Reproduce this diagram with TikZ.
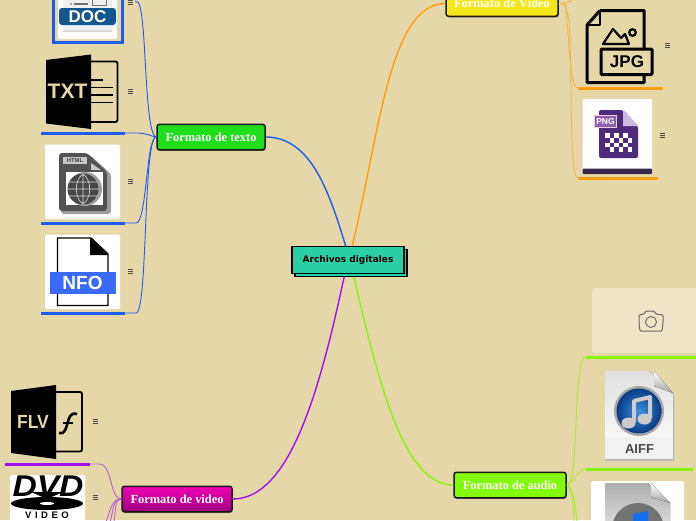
\documentclass[tikz,border=0pt]{standalone}
\usepackage{fontspec}
\setmainfont{Liberation Serif}
\newfontfamily\dejabold{DejaVu Sans}
\newfontfamily\helv{Liberation Sans}
\usetikzlibrary{shadows}
\definecolor{bgc}{HTML}{E6D7A8}
\definecolor{bluec}{HTML}{1E5CF0}
\definecolor{orangec}{HTML}{FF9E0F}
\definecolor{limec}{HTML}{86F50A}
\definecolor{purplec}{HTML}{A010F0}
\definecolor{topic}{HTML}{2CCFA4}
\tikzset{
 x=1pt,y=-1pt,
 topicbox/.style={draw=black!90,line width=1.5pt,rounded corners=2.5pt,font=\bfseries\fontsize{12.4}{13}\selectfont,text=white,inner sep=0pt,minimum height=25.5pt,drop shadow={shadow xshift=0.6pt,shadow yshift=-1.2pt,fill=black,opacity=.5}},
 link/.style={line width=.9pt},
 mainlink/.style={line width=1.4pt},
 under/.style={line width=3pt},
 menu/.style={draw=black!70,line width=.75pt},
 whitecard/.style={fill=white,rounded corners=1.5pt},
}
\newcommand{\burger}[2]{\draw[menu] (#1-2.3,#2-2)--(#1+2.3,#2-2) (#1-2.3,#2)--(#1+2.3,#2) (#1-2.3,#2+2)--(#1+2.3,#2+2);}
\begin{document}
\begin{tikzpicture}
\useasboundingbox (0,0) rectangle (696,520);
\fill[bgc] (0,0) rectangle (696,520);
\begin{scope}
\clip (0,0) rectangle (696,520);
% card
\fill[white!35!bgc,rounded corners=3pt] (592,288) rectangle (700,353);
\draw[black!60,line width=1pt,rounded corners=1pt] (639,315) -- (639,323) -- (640,331) -- (662,331) -- (663,323) -- (663,315) -- (656,314) -- (654,311) -- (646,311) -- (644,314) -- cycle;
\draw[black!60,line width=.9pt] (651,322) circle (5.5);
% central link anchors
\coordinate (ca) at (346,247);
\coordinate (cb) at (352,247);
\coordinate (cc) at (353,273);
\coordinate (cd) at (345,273);
% topics
\node[topicbox,fill={rgb,255:red,32;green,222;blue,28},minimum width=108pt] (ftexto) at (211,137) {Formato de texto};
\node[topicbox,fill={rgb,255:red,244;green,232;blue,26},minimum width=112pt] (fvideo1) at (502,3.5) {Formato de Vídeo};
\node[topicbox,fill={rgb,255:red,130;green,250;blue,10},minimum width=112pt] (faudio) at (510,485) {Formato de audio};
\node[topicbox,top color={rgb,255:red,238;green,0;blue,180},bottom color={rgb,255:red,160;green,0;blue,130},minimum width=110pt] (fvideo2) at (177,499) {Formato de video};
% central links
\draw[bluec,mainlink] (ca) .. controls (330,195) and (312,137) .. (ftexto.east);
\draw[orangec,mainlink] (cb) .. controls (380,130) and (390,3.5) .. (fvideo1.west);
\draw[limec,mainlink] (cc) .. controls (380,390) and (405,485) .. (faudio.west);
\draw[purplec,mainlink] (cd) .. controls (320,390) and (290,499) .. (fvideo2.east);
% central
\node[draw=black,line width=1.4pt,fill=topic,minimum width=112pt,minimum height=27pt,inner sep=0pt] (cshadow) at (351,263) {};
\node[draw=black,line width=1.4pt,fill=topic,minimum width=112pt,minimum height=27pt,inner sep=0pt,font=\dejabold\bfseries\fontsize{9}{10}\selectfont] (central) at (348,260) {Archivos digitales};
% texto items
\coordinate (t1) at (135,1);\coordinate (t2) at (125,133);\coordinate (t3) at (125,223);\coordinate (t4) at (125,313);
\draw[bluec,link] (ftexto.west) .. controls (147,137) and (146,60) .. (143,28) .. controls (141,8) and (140,1) .. (t1);
\draw[bluec,link] (ftexto.west) .. controls (150,136) and (146,133) .. (138,133) -- (t2);
\draw[bluec,link] (ftexto.west) .. controls (146,137) and (147,223) .. (136,223) -- (t3);
\draw[bluec,link] (ftexto.west) .. controls (143,137) and (148,313) .. (136,313) -- (t4);
\draw[bluec,under] (41,133)--(t2) (41,223)--(t3) (41,313)--(t4);
% DOC
\fill[whitecard] (58,-5) rectangle (117,39);
\draw[bluec,line width=3pt] (53.5,-5) rectangle (122.5,42.5);
\fill[black!6] (63,-5) rectangle (112,32);
\fill[black!15] (63,30) rectangle (112,32);
\fill[black!55] (74,3) rectangle (88,4.5);\fill[black!55] (71,3.8) circle (1);
\draw[black!55] (92,-3) rectangle (106,5);
\fill[rounded corners=3pt,fill={rgb,255:red,18;green,88;blue,142}] (59,8) rectangle (116,25);
\node[font=\helv\bfseries\fontsize{17}{18}\selectfont,text=white!92!bgc,inner sep=0pt] (doc) at (87.5,17) {DOC};
\burger{130.5}{2}
% TXT
\draw[black,line width=1.9pt,rounded corners=2pt] (85,61.5) -- (117.5,61.5) -- (117.5,122) -- (85,122);
\fill[black] (46,60) -- (91,54.5) -- (91,129) -- (46,123.5) -- cycle;
\draw[black,line width=1.7pt] (91,80)--(103,80) (91,87.5)--(113,87.5) (91,95)--(113,95) (91,102.5)--(113,102.5);
\node[font=\helv\bfseries\fontsize{21}{22}\selectfont,text=bgc,inner sep=0pt] (txt) at (67.5,91.5) {TXT};
\burger{130.5}{91}
% HTML
\fill[whitecard] (45,144.5) rectangle (120,219);
\fill[rounded corners=3pt,black!38] (61,155) -- (90,155) -- (111,174) -- (111,214) -- (61,214) -- cycle;
\fill[rounded corners=3pt,black!68] (59,153) -- (87,153) -- (107,172) -- (107,211) -- (59,211) -- cycle;
\fill[white] (66,172) rectangle (103,205);
\fill[black!22] (63,157) rectangle (87,164);
\node[font=\helv\bfseries\fontsize{5.8}{6}\selectfont,text=black!75,inner sep=0pt] (html) at (75,160.5) {HTML};
\fill[black!22] (91,163) -- (91,170) -- (101,170) -- cycle;
\fill[black!38] (85,189) circle (17);
\fill[black!72] (83,189) circle (15.5);
\draw[white!85!black,line width=.6pt] (68,182)--(98,182) (67.5,189)--(98.5,189) (68,196)--(98,196) (83,174)--(83,204) (83,174) .. controls (74,180) and (74,198) .. (83,204) (83,174) .. controls (92,180) and (92,198) .. (83,204);
\burger{130.5}{181.5}
% NFO
\fill[whitecard] (45,234.5) rectangle (120,309);
\draw[black,line width=1.4pt,fill=white] (57.5,238) -- (91,238) -- (108,254) -- (108,305.5) -- (57.5,305.5) -- cycle;
\fill[black] (90,238) -- (108,255) -- (90,255) -- cycle;
\fill[fill={rgb,255:red,58;green,106;blue,252}] (50,272) rectangle (115.5,294);
\node[font=\helv\bfseries\fontsize{19}{20}\selectfont,text=white,inner sep=0pt] (nfo) at (82.5,283) {NFO};
\burger{130.5}{271.5}
% video 1 items
\coordinate (j1) at (578,88);\coordinate (j2) at (578,178);
\draw[orangec!60!bgc,link] (fvideo1.east) .. controls (568,4) and (565,2) .. (566,10) .. controls (570,50) and (570,88) .. (j1);
\draw[orangec!60!bgc,link] (fvideo1.east) .. controls (566,2) and (569,10) .. (570,40) .. controls (572,100) and (570,178) .. (j2);
\draw[orangec!60!bgc,link] (fvideo1.east) .. controls (566,3) and (570,3) .. (574,-2);
\draw[orangec,under] (j1)--(663,88) (j2)--(658,178);
% JPG
\draw[black,line width=3pt,line join=round] (600,10.5) -- (644,10.5) -- (644,48) (644,75) -- (644,82.5) -- (587,82.5) -- (587,25) -- (600,10.5);
\draw[black,line width=1.8pt,line join=round] (587,25) -- (600,25) -- (600,10.5);
\draw[black,line width=3pt,rounded corners=1pt] (601,49) rectangle (652,74.5);
\draw[black,line width=2.2pt,line join=round] (603,44) -- (613,29) -- (621,38) -- (625,34) -- (629,44) -- cycle;
\draw[black,line width=2.2pt] (632.5,32.5) circle (3.3);
\node[font=\helv\bfseries\fontsize{17}{18}\selectfont,inner sep=0pt] (jpg) at (627,62) {JPG};
\burger{667.5}{45.5}
% PNG
\fill[whitecard] (582.5,99) rectangle (652,174);
\fill[rounded corners=1pt,fill={rgb,255:red,54;green,38;blue,74}] (582.5,168.5) rectangle (652,174);
\fill[rounded corners=2pt,fill={rgb,255:red,78;green,42;blue,124}] (599,110) -- (623,110) -- (638,126) -- (638,158) -- (599,158) -- cycle;
\fill[fill={rgb,255:red,204;green,186;blue,226}] (623,110) -- (638,126) -- (623,126) -- cycle;
\fill[fill={rgb,255:red,140;green,96;blue,172},draw=white!80!purple,line width=.8pt] (594.5,115.5) rectangle (616.5,127);
\node[font=\helv\bfseries\fontsize{8.5}{9}\selectfont,text=white,inner sep=0pt] (png) at (605.5,121.3) {PNG};
\foreach \r in {0,1,2,3} \foreach \c in {0,1,2} {\pgfmathsetmacro{\xx}{605+\c*9+mod(\r,2)*4.5}\pgfmathsetmacro{\yy}{133+\r*4.8}\fill[white] (\xx,\yy) rectangle +(4.5,4.8);}
\burger{662.5}{135.5}
% audio items
\coordinate (a1) at (586,357);\coordinate (a2) at (586,469);
\draw[limec!75!bgc,link] (faudio.east) .. controls (580,485) and (572,357) .. (a1);
\draw[limec!75!bgc,link] (faudio.east) .. controls (572,485) and (578,469) .. (a2);
\draw[limec!75!bgc,link] (faudio.east) .. controls (572,485) and (575,500) .. (577,522);
\draw[limec!75!bgc,link] (faudio.east) .. controls (570,485) and (574,500) .. (574,522);
\draw[limec,under] (a1)--(700,357) (a2)--(693,469);
% AIFF
\fill[black!25] (606,373) -- (650,373) -- (674,395) -- (674,461) -- (606,461) -- cycle;
\fill[top color=black!12,bottom color=white] (605,371) -- (649,371) -- (673,393) -- (673,459) -- (605,459) -- cycle;
\fill[white!95!black] (605,437) rectangle (673,459);
\fill[top color=white,bottom color=black!35] (654,371)--(673,393)--(654,386)--cycle;
\fill[black!35] (639,411) circle (25);
\shade[inner color={rgb,255:red,60;green,140;blue,225},outer color={rgb,255:red,8;green,60;blue,130}] (639,411) circle (22.5);
\draw[black!20,line width=4pt,line join=round] (634,422) -- (634,401) -- (650,397) -- (650,418);
\fill[black!20] (628.5,423) ellipse (7 and 5.5) (644.5,419) ellipse (7 and 5.5);
\node[font=\helv\bfseries\fontsize{13}{14}\selectfont,text=black!72,inner sep=0pt] (aiff) at (639.5,449.5) {AIFF};
% second audio
\fill[whitecard] (591,481) rectangle (684,525);
\fill[top color=black!32,bottom color=black!14] (605,483) -- (648,483) -- (670,503) -- (670,525) -- (605,525) -- cycle;
\fill[top color=white,bottom color=black!35] (651,483)--(670,503)--(651,497)--cycle;
\fill[black!55] (638,529) circle (26);
\fill[fill={rgb,255:red,20;green,110;blue,240}] (633,514) -- (648,511) -- (648,525) -- (633,525) -- cycle;
% video 2 items
\coordinate (v1) at (90,464);
\draw[purplec!60!bgc,link] (fvideo2.west) .. controls (109,498) and (113,464) .. (99,464) -- (v1);
\draw[purplec!60!bgc,link] (fvideo2.west) .. controls (112,499) and (111,508) .. (106,522);
\draw[purplec!60!bgc,link] (fvideo2.west) .. controls (113,499) and (114,508) .. (110,522);
\draw[purplec!60!bgc,link] (fvideo2.west) .. controls (115,499) and (116,508) .. (114,522);
\draw[purplec,under] (5,464)--(v1);
% FLV
\draw[black,line width=1.9pt,rounded corners=2pt] (50,392) -- (82,392) -- (82,451.5) -- (50,451.5);
\fill[black] (11,391) -- (56,385) -- (56,459) -- (11,453) -- cycle;
\node[font=\helv\bfseries\fontsize{19}{20}\selectfont,text=bgc,inner sep=0pt,xscale=.92] (flv) at (33,422) {FLV};
\draw[black,line width=2.6pt] (77,414) .. controls (70,412) and (69,418) .. (67,425) .. controls (65,432) and (63,434) .. (59,433);
\draw[black,line width=2pt] (63,423)--(73,423);
\burger{95.5}{421.5}
% DVD
\fill[whitecard] (10,475) rectangle (85,525);
\fill[black] (47,503.5) ellipse (36 and 6.5);
\fill[white] (47,503.5) ellipse (7 and 1.5);
\fill[black] (31,492) -- (47,499) -- (63,492) -- cycle;
\node[font=\helv\bfseries\itshape\fontsize{30}{30}\selectfont,inner sep=0pt,xscale=1.12] (dvd) at (48,486.5) {DVD};
\node[font=\helv\bfseries\fontsize{9.5}{10}\selectfont,inner sep=0pt] (vid) at (47,515) {V\hspace{3.5pt}I\hspace{3.5pt}D\hspace{3.5pt}E\hspace{3.5pt}O};
\burger{95.5}{497.5}
\end{scope}
\end{tikzpicture}
\end{document}
